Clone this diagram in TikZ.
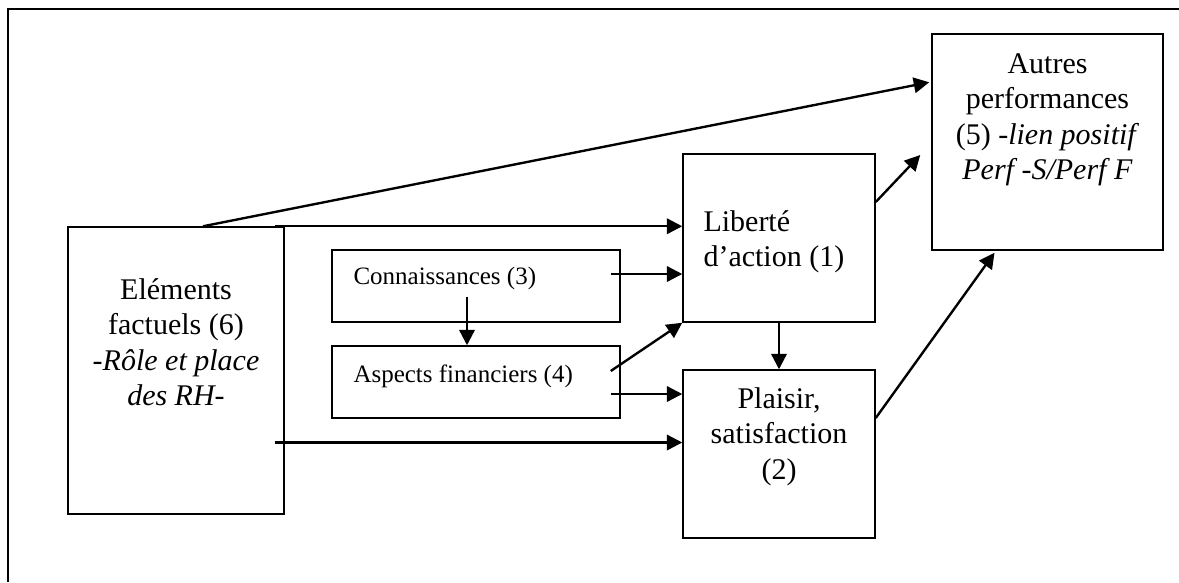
\documentclass[tikz,border=0pt]{standalone}
\usepackage{fontspec}
\setmainfont{Liberation Serif}
\usetikzlibrary{arrows.meta,calc}

\newlength\unitpx
\setlength\unitpx{0.4pt}

\begin{document}
\begin{tikzpicture}[x=0.4pt, y=-0.4pt,
    box/.style={draw, line width=0.6pt, inner sep=0pt},
    arr/.style={line width=0.95pt, -{Triangle[length=6.2pt, width=6.2pt]}},
    bigtxt/.style={inner sep=0pt, align=center, font=\fontsize{12}{14.2}\selectfont},
    smalltxt/.style={inner sep=0pt, anchor=north west, font=\fontsize{10}{12}\selectfont}]
    \useasboundingbox (0,0) rectangle (1179,582);

    % Outer frame, only its top and left edges show
    \draw[line width=1.1pt] (8,582) -- (8,9) -- (1179,9);

    % The boxes
    \node[box, minimum width=216\unitpx, minimum height=287\unitpx] (elem) at (176,370.5) {};
    \node[box, minimum width=288\unitpx, minimum height=72\unitpx] (conn) at (476,286) {};
    \node[box, minimum width=288\unitpx, minimum height=72\unitpx] (asp) at (476,382) {};
    \node[box, minimum width=192\unitpx, minimum height=168\unitpx] (lib) at (779,238) {};
    \node[box, minimum width=192\unitpx, minimum height=168\unitpx] (plai) at (779,454) {};
    \node[box, minimum width=231\unitpx, minimum height=216\unitpx] (autres) at (1047.5,142) {};

    % Texts inside the boxes
    \node[bigtxt, anchor=north] (telem) at (176,278) {Eléments\\factuels (6)\\\textit{-Rôle et place}\\\textit{des RH-}};
    \node[smalltxt] (tconn) at (353,267) {Connaissances (3)};
    \node[smalltxt] (tasp) at (353,364) {Aspects financiers (4)};
    \node[bigtxt, anchor=north west, align=left] (tlib) at (703,210) {Liberté\\d’action (1)};
    \node[bigtxt, anchor=north] (tplai) at (779,387) {Plaisir,\\satisfaction\\(2)};
    \node[bigtxt, anchor=north] (tautres) at (1047.5,53) {Autres\\performances\\(5) \textit{-lien positif}\\\textit{Perf -S/Perf F}};

    % Arrows
    \draw[arr] ($(elem.north)+(27,0)$) -- ($(autres.north west)+(-2,49)$);
    \draw[arr] ($(elem.north east)+(-10,0)$) -- (lib.west |- elem.north);
    \draw[arr] ($(conn.east)+(-10,-12)$) coordinate (c1) -- (c1 -| lib.west);
    \draw[arr] ($(conn.center)+(-9,11)$) coordinate (c2) -- (c2 |- asp.north);
    \draw[arr] ($(asp.east)+(-10,-11)$) -- (lib.south west);
    \draw[arr] ($(asp.east)+(-10,12)$) coordinate (a1) -- (a1 -| plai.west);
    \draw[arr] ($(elem.east)+(-10,72)$) coordinate (e1) -- (e1 -| plai.west);
    \draw[arr] (lib.south) -- (plai.north);
    \draw[arr] ($(lib.east)+(0,-36)$) -- ($(autres.west)+(-11,13)$);
    \draw[arr] ($(plai.east)+(0,-36)$) -- ($(autres.south)+(-53,2)$);

\end{tikzpicture}
\end{document}
